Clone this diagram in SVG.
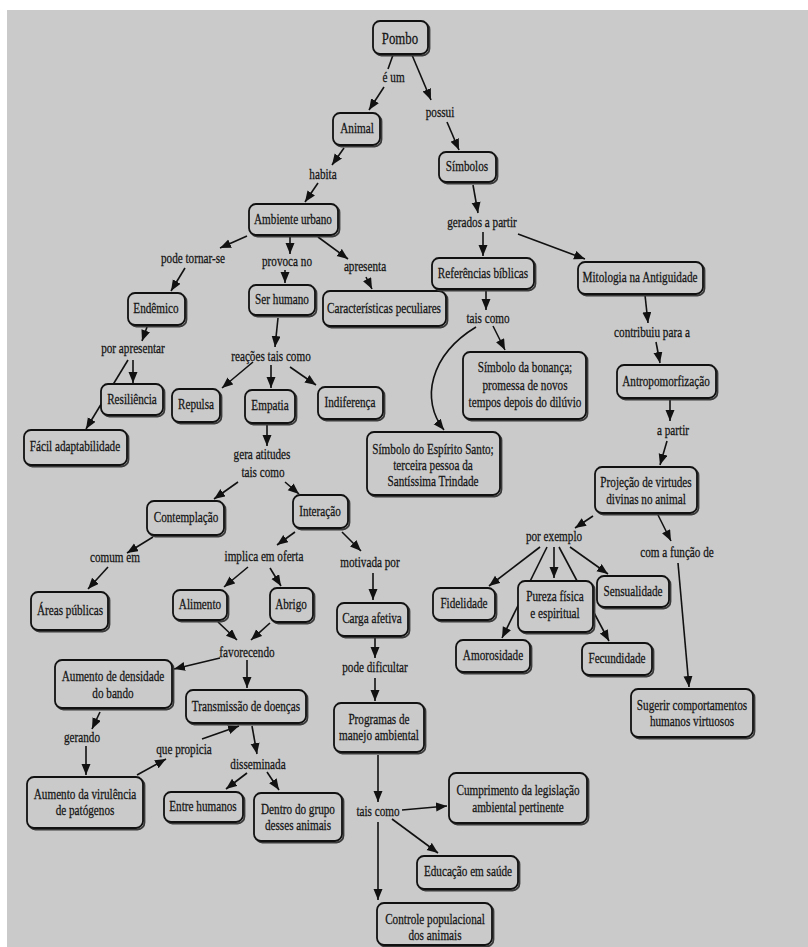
<svg xmlns="http://www.w3.org/2000/svg" width="808" height="947" viewBox="0 0 808 947">
<defs>
<style>
.bx{fill:#cacaca;stroke:#111;stroke-width:1.8}
.sh{fill:none;stroke:#3a3a3a;stroke-width:1.8}
.t{font-family:"Liberation Serif","Times New Roman",serif;font-size:14px;fill:#141414;stroke:#141414;stroke-width:0.25;text-anchor:middle;dominant-baseline:central}
.c line,.c path{stroke:#111;stroke-width:1.6;fill:none}
.a{marker-end:url(#ah)}
</style>
<marker id="ah" markerUnits="userSpaceOnUse" markerWidth="12" markerHeight="10" refX="11" refY="4.5" orient="auto">
<path d="M0,0 L11,4.5 L0,9 z" fill="#111"/>
</marker>
</defs>
<rect x="0" y="0" width="808" height="947" fill="#ffffff"/>
<rect x="7" y="10" width="801" height="937" fill="#cacaca"/>

<g id="connectors" class="c">
<line x1="393" y1="55" x2="388" y2="69"/>
<line class="a" x1="384" y1="87" x2="369" y2="110"/>
<line class="a" x1="412" y1="55" x2="431" y2="100"/>
<line class="a" x1="447" y1="122" x2="459" y2="150"/>
<line class="a" x1="344" y1="148" x2="332" y2="165"/>
<line class="a" x1="318" y1="183" x2="305" y2="202"/>
<line class="a" x1="473" y1="185" x2="478" y2="213"/>
<line class="a" x1="483" y1="232" x2="483" y2="256"/>
<line class="a" x1="518" y1="234" x2="585" y2="259"/>
<line class="a" x1="247" y1="236" x2="220" y2="248"/>
<line class="a" x1="290" y1="237" x2="290" y2="254"/>
<line class="a" x1="318" y1="237" x2="348" y2="259"/>
<line class="a" x1="185" y1="268" x2="171" y2="291"/>
<line class="a" x1="285" y1="270" x2="285" y2="283"/>
<line class="a" x1="366" y1="277" x2="372" y2="289"/>
<line class="a" x1="147" y1="327" x2="142" y2="341"/>
<line class="a" x1="133" y1="360" x2="133" y2="383"/>
<line class="a" x1="128" y1="360" x2="86" y2="429"/>
<line class="a" x1="278" y1="318" x2="275" y2="347"/>
<line class="a" x1="253" y1="362" x2="222" y2="388"/>
<line class="a" x1="271" y1="365" x2="271" y2="388"/>
<line class="a" x1="290" y1="367" x2="316" y2="385"/>
<line class="a" x1="486" y1="291" x2="486" y2="310"/>
<line class="a" x1="493" y1="326" x2="505" y2="350"/>
<path class="a" d="M476,327 C430,355 420,400 444,430"/>
<line class="a" x1="645" y1="295" x2="648" y2="323"/>
<line class="a" x1="656" y1="342" x2="660" y2="363"/>
<line class="a" x1="670" y1="400" x2="670" y2="421"/>
<line class="a" x1="667" y1="441" x2="660" y2="465"/>
<line class="a" x1="267" y1="425" x2="267" y2="446"/>
<line class="a" x1="238" y1="482" x2="214" y2="499"/>
<line class="a" x1="285" y1="482" x2="299" y2="494"/>
<line class="a" x1="153" y1="537" x2="127" y2="553"/>
<line class="a" x1="108" y1="567" x2="88" y2="589"/>
<line class="a" x1="295" y1="532" x2="277" y2="545"/>
<line class="a" x1="342" y1="532" x2="361" y2="551"/>
<line class="a" x1="248" y1="567" x2="224" y2="587"/>
<line class="a" x1="270" y1="568" x2="281" y2="586"/>
<line class="a" x1="373" y1="573" x2="373" y2="600"/>
<line class="a" x1="218" y1="622" x2="237" y2="640"/>
<line class="a" x1="270" y1="623" x2="251" y2="640"/>
<line class="a" x1="375" y1="637" x2="375" y2="658"/>
<line class="a" x1="375" y1="678" x2="375" y2="701"/>
<line class="a" x1="220" y1="658" x2="174" y2="669"/>
<line class="a" x1="247" y1="660" x2="247" y2="688"/>
<line class="a" x1="100" y1="712" x2="92" y2="729"/>
<line class="a" x1="86" y1="746" x2="86" y2="775"/>
<line class="a" x1="137" y1="775" x2="166" y2="759"/>
<line class="a" x1="202" y1="739" x2="239" y2="726"/>
<line class="a" x1="252" y1="726" x2="257" y2="754"/>
<line class="a" x1="247" y1="773" x2="226" y2="789"/>
<line class="a" x1="267" y1="772" x2="279" y2="790"/>
<line class="a" x1="378" y1="755" x2="378" y2="802"/>
<line class="a" x1="402" y1="810" x2="447" y2="806"/>
<line class="a" x1="392" y1="819" x2="438" y2="853"/>
<line class="a" x1="378" y1="822" x2="378" y2="900"/>
<line class="a" x1="593" y1="516" x2="575" y2="528"/>
<line class="a" x1="658" y1="515" x2="671" y2="541"/>
<line class="a" x1="678" y1="563" x2="689" y2="687"/>
<line class="a" x1="540" y1="547" x2="489" y2="586"/>
<line class="a" x1="554" y1="547" x2="554" y2="578"/>
<line class="a" x1="547" y1="547" x2="502" y2="638"/>
<line class="a" x1="559" y1="547" x2="609" y2="641"/>
<line class="a" x1="570" y1="547" x2="608" y2="574"/>
</g>

<g id="labels">
<text class="t" transform="scale(0.8,1)" x="492" y="78">é um</text>
<text class="t" transform="scale(0.8,1)" x="550" y="113">possui</text>
<text class="t" transform="scale(0.8,1)" x="403.75" y="175">habita</text>
<text class="t" transform="scale(0.8,1)" x="602.5" y="223">gerados a partir</text>
<text class="t" transform="scale(0.8,1)" x="241.25" y="259">pode tornar-se</text>
<text class="t" transform="scale(0.8,1)" x="358.75" y="262">provoca no</text>
<text class="t" transform="scale(0.8,1)" x="456.25" y="267">apresenta</text>
<text class="t" transform="scale(0.8,1)" x="166.25" y="349">por apresentar</text>
<text class="t" transform="scale(0.8,1)" x="338.75" y="357">reações tais como</text>
<text class="t" transform="scale(0.8,1)" x="610" y="319">tais como</text>
<text class="t" transform="scale(0.8,1)" x="815" y="333">contribuiu para a</text>
<text class="t" transform="scale(0.8,1)" x="841.25" y="431">a partir</text>
<text class="t" transform="scale(0.8,1)" x="327.5" y="455">gera atitudes</text>
<text class="t" transform="scale(0.8,1)" x="328.75" y="473">tais como</text>
<text class="t" transform="scale(0.8,1)" x="692.5" y="537">por exemplo</text>
<text class="t" transform="scale(0.8,1)" x="846.25" y="553">com a função de</text>
<text class="t" transform="scale(0.8,1)" x="143.75" y="558">comum em</text>
<text class="t" transform="scale(0.8,1)" x="330" y="557">implica em oferta</text>
<text class="t" transform="scale(0.8,1)" x="462.5" y="563">motivada por</text>
<text class="t" transform="scale(0.8,1)" x="308.75" y="653">favorecendo</text>
<text class="t" transform="scale(0.8,1)" x="468.75" y="668">pode dificultar</text>
<text class="t" transform="scale(0.8,1)" x="102.5" y="738">gerando</text>
<text class="t" transform="scale(0.8,1)" x="230" y="750">que propicia</text>
<text class="t" transform="scale(0.8,1)" x="322.5" y="765">disseminada</text>
<text class="t" transform="scale(0.8,1)" x="472.5" y="812">tais como</text>
</g>

<g id="pombo"><rect class="sh" x="374.5" y="22.5" width="55" height="33" rx="7"/><rect class="bx" x="373" y="21" width="55" height="33" rx="7"/><text class="t" transform="scale(0.8,1)" x="500" y="38" style="font-size:16px">Pombo</text></g>
<g id="animal"><rect class="sh" x="334.5" y="114.5" width="47" height="32" rx="7"/><rect class="bx" x="333" y="113" width="47" height="32" rx="7"/><text class="t" transform="scale(0.8,1)" x="446.25" y="129">Animal</text></g>
<g id="simbolos"><rect class="sh" x="440.5" y="153.5" width="57" height="30" rx="7"/><rect class="bx" x="439" y="152" width="57" height="30" rx="7"/><text class="t" transform="scale(0.8,1)" x="583.75" y="167">Símbolos</text></g>
<g id="ambiente"><rect class="sh" x="250.5" y="205.5" width="89" height="31" rx="7"/><rect class="bx" x="249" y="204" width="89" height="31" rx="7"/><text class="t" transform="scale(0.8,1)" x="366.25" y="220">Ambiente urbano</text></g>
<g id="endemico"><rect class="sh" x="129.5" y="294.5" width="57" height="32" rx="7"/><rect class="bx" x="128" y="293" width="57" height="32" rx="7"/><text class="t" transform="scale(0.8,1)" x="195" y="309">Endêmico</text></g>
<g id="serhumano"><rect class="sh" x="250.5" y="286.5" width="66" height="30" rx="7"/><rect class="bx" x="249" y="285" width="66" height="30" rx="7"/><text class="t" transform="scale(0.8,1)" x="352.5" y="300">Ser humano</text></g>
<g id="caracteristicas"><rect class="sh" x="324.5" y="292.5" width="123" height="35" rx="7"/><rect class="bx" x="323" y="291" width="123" height="35" rx="7"/><text class="t" transform="scale(0.8,1)" x="480" y="309">Características peculiares</text></g>
<g id="referencias"><rect class="sh" x="433.5" y="259.5" width="102" height="31" rx="7"/><rect class="bx" x="432" y="258" width="102" height="31" rx="7"/><text class="t" transform="scale(0.8,1)" x="603.75" y="274">Referências bíblicas</text></g>
<g id="mitologia"><rect class="sh" x="579.5" y="263.5" width="125" height="32" rx="7"/><rect class="bx" x="578" y="262" width="125" height="32" rx="7"/><text class="t" transform="scale(0.8,1)" x="800" y="278">Mitologia na Antiguidade</text></g>
<g id="resiliencia"><rect class="sh" x="102.5" y="385.5" width="62" height="31" rx="7"/><rect class="bx" x="101" y="384" width="62" height="31" rx="7"/><text class="t" transform="scale(0.8,1)" x="165" y="400">Resiliência</text></g>
<g id="facil"><rect class="sh" x="25.5" y="431.5" width="103" height="35" rx="7"/><rect class="bx" x="24" y="430" width="103" height="35" rx="7"/><text class="t" transform="scale(0.8,1)" x="93.75" y="447">Fácil adaptabilidade</text></g>
<g id="repulsa"><rect class="sh" x="173.5" y="390.5" width="48" height="33" rx="7"/><rect class="bx" x="172" y="389" width="48" height="33" rx="7"/><text class="t" transform="scale(0.8,1)" x="245" y="405">Repulsa</text></g>
<g id="empatia"><rect class="sh" x="246.5" y="391.5" width="50" height="33" rx="7"/><rect class="bx" x="245" y="390" width="50" height="33" rx="7"/><text class="t" transform="scale(0.8,1)" x="337.5" y="406">Empatia</text></g>
<g id="indiferenca"><rect class="sh" x="319.5" y="388.5" width="65" height="32" rx="7"/><rect class="bx" x="318" y="387" width="65" height="32" rx="7"/><text class="t" transform="scale(0.8,1)" x="437.5" y="403">Indiferença</text></g>
<g id="bonanca"><rect class="sh" x="464.5" y="353.5" width="123" height="67" rx="7"/><rect class="bx" x="463" y="352" width="123" height="67" rx="7"/><text class="t" transform="scale(0.8,1)"><tspan x="656.25" y="368">Símbolo da bonança;</tspan><tspan x="656.25" y="386">promessa de novos</tspan><tspan x="656.25" y="403">tempos depois do dilúvio</tspan></text></g>
<g id="espirito"><rect class="sh" x="368.5" y="433.5" width="133" height="63" rx="7"/><rect class="bx" x="367" y="432" width="133" height="63" rx="7"/><text class="t" transform="scale(0.8,1)"><tspan x="541.25" y="450">Símbolo do Espírito Santo;</tspan><tspan x="541.25" y="466">terceira pessoa da</tspan><tspan x="541.25" y="482">Santíssima Trindade</tspan></text></g>
<g id="antropo"><rect class="sh" x="618.5" y="366.5" width="99" height="33" rx="7"/><rect class="bx" x="617" y="365" width="99" height="33" rx="7"/><text class="t" transform="scale(0.8,1)" x="832.5" y="382">Antropomorfização</text></g>
<g id="projecao"><rect class="sh" x="596.5" y="468.5" width="102" height="46" rx="7"/><rect class="bx" x="595" y="467" width="102" height="46" rx="7"/><text class="t" transform="scale(0.8,1)"><tspan x="807.5" y="483">Projeção de virtudes</tspan><tspan x="807.5" y="500">divinas no animal</tspan></text></g>
<g id="contemplacao"><rect class="sh" x="148.5" y="502.5" width="77" height="34" rx="7"/><rect class="bx" x="147" y="501" width="77" height="34" rx="7"/><text class="t" transform="scale(0.8,1)" x="232.5" y="518">Contemplação</text></g>
<g id="interacao"><rect class="sh" x="294.5" y="496.5" width="55" height="33" rx="7"/><rect class="bx" x="293" y="495" width="55" height="33" rx="7"/><text class="t" transform="scale(0.8,1)" x="400" y="512">Interação</text></g>
<g id="areas"><rect class="sh" x="32.5" y="593.5" width="77" height="38" rx="7"/><rect class="bx" x="31" y="592" width="77" height="38" rx="7"/><text class="t" transform="scale(0.8,1)" x="87.5" y="611">Áreas públicas</text></g>
<g id="alimento"><rect class="sh" x="174.5" y="591.5" width="54" height="30" rx="7"/><rect class="bx" x="173" y="590" width="54" height="30" rx="7"/><text class="t" transform="scale(0.8,1)" x="250" y="605">Alimento</text></g>
<g id="abrigo"><rect class="sh" x="271.5" y="589.5" width="43" height="34" rx="7"/><rect class="bx" x="270" y="588" width="43" height="34" rx="7"/><text class="t" transform="scale(0.8,1)" x="363.75" y="605">Abrigo</text></g>
<g id="carga"><rect class="sh" x="338.5" y="604.5" width="71" height="33" rx="7"/><rect class="bx" x="337" y="603" width="71" height="33" rx="7"/><text class="t" transform="scale(0.8,1)" x="465" y="619">Carga afetiva</text></g>
<g id="fidelidade"><rect class="sh" x="434.5" y="589.5" width="62" height="32" rx="7"/><rect class="bx" x="433" y="588" width="62" height="32" rx="7"/><text class="t" transform="scale(0.8,1)" x="580" y="604">Fidelidade</text></g>
<g id="pureza"><rect class="sh" x="519.5" y="582.5" width="75" height="51" rx="7"/><rect class="bx" x="518" y="581" width="75" height="51" rx="7"/><text class="t" transform="scale(0.8,1)"><tspan x="693.75" y="597">Pureza física</tspan><tspan x="693.75" y="614">e espiritual</tspan></text></g>
<g id="sensualidade"><rect class="sh" x="598.5" y="577.5" width="72" height="31" rx="7"/><rect class="bx" x="597" y="576" width="72" height="31" rx="7"/><text class="t" transform="scale(0.8,1)" x="791.25" y="592">Sensualidade</text></g>
<g id="amorosidade"><rect class="sh" x="457.5" y="641.5" width="74" height="32" rx="7"/><rect class="bx" x="456" y="640" width="74" height="32" rx="7"/><text class="t" transform="scale(0.8,1)" x="616.25" y="656">Amorosidade</text></g>
<g id="fecundidade"><rect class="sh" x="583.5" y="644.5" width="70" height="32" rx="7"/><rect class="bx" x="582" y="643" width="70" height="32" rx="7"/><text class="t" transform="scale(0.8,1)" x="771.25" y="659">Fecundidade</text></g>
<g id="sugerir"><rect class="sh" x="632.5" y="690.5" width="122" height="48" rx="7"/><rect class="bx" x="631" y="689" width="122" height="48" rx="7"/><text class="t" transform="scale(0.8,1)"><tspan x="865" y="706">Sugerir comportamentos</tspan><tspan x="865" y="722">humanos virtuosos</tspan></text></g>
<g id="aumentodensidade"><rect class="sh" x="56.5" y="661.5" width="117" height="48" rx="7"/><rect class="bx" x="55" y="660" width="117" height="48" rx="7"/><text class="t" transform="scale(0.8,1)"><tspan x="141.25" y="677">Aumento de densidade</tspan><tspan x="141.25" y="694">do bando</tspan></text></g>
<g id="transmissao"><rect class="sh" x="187.5" y="691.5" width="120" height="33" rx="7"/><rect class="bx" x="186" y="690" width="120" height="33" rx="7"/><text class="t" transform="scale(0.8,1)" x="307.5" y="707">Transmissão de doenças</text></g>
<g id="programas"><rect class="sh" x="335.5" y="704.5" width="90" height="49" rx="7"/><rect class="bx" x="334" y="703" width="90" height="49" rx="7"/><text class="t" transform="scale(0.8,1)"><tspan x="473.75" y="720">Programas de</tspan><tspan x="473.75" y="736">manejo ambiental</tspan></text></g>
<g id="aumentovirulencia"><rect class="sh" x="28.5" y="778.5" width="116" height="51" rx="7"/><rect class="bx" x="27" y="777" width="116" height="51" rx="7"/><text class="t" transform="scale(0.8,1)"><tspan x="106.25" y="795">Aumento da virulência</tspan><tspan x="106.25" y="811">de patógenos</tspan></text></g>
<g id="entrehumanos"><rect class="sh" x="165.5" y="793.5" width="79" height="30" rx="7"/><rect class="bx" x="164" y="792" width="79" height="30" rx="7"/><text class="t" transform="scale(0.8,1)" x="253.75" y="807">Entre humanos</text></g>
<g id="dentrogrupo"><rect class="sh" x="255.5" y="794.5" width="88" height="48" rx="7"/><rect class="bx" x="254" y="793" width="88" height="48" rx="7"/><text class="t" transform="scale(0.8,1)"><tspan x="372.5" y="810">Dentro do grupo</tspan><tspan x="372.5" y="826">desses animais</tspan></text></g>
<g id="cumprimento"><rect class="sh" x="450.5" y="774.5" width="138" height="50" rx="7"/><rect class="bx" x="449" y="773" width="138" height="50" rx="7"/><text class="t" transform="scale(0.8,1)"><tspan x="647.5" y="791">Cumprimento da legislação</tspan><tspan x="647.5" y="808">ambiental pertinente</tspan></text></g>
<g id="educacao"><rect class="sh" x="418.5" y="857.5" width="101" height="33" rx="7"/><rect class="bx" x="417" y="856" width="101" height="33" rx="7"/><text class="t" transform="scale(0.8,1)" x="585" y="872">Educação em saúde</text></g>
<g id="controle"><rect class="sh" x="378.5" y="904.5" width="115" height="42" rx="7"/><rect class="bx" x="377" y="903" width="115" height="42" rx="7"/><text class="t" transform="scale(0.8,1)"><tspan x="543.75" y="920">Controle populacional</tspan><tspan x="543.75" y="936">dos animais</tspan></text></g>
</svg>
